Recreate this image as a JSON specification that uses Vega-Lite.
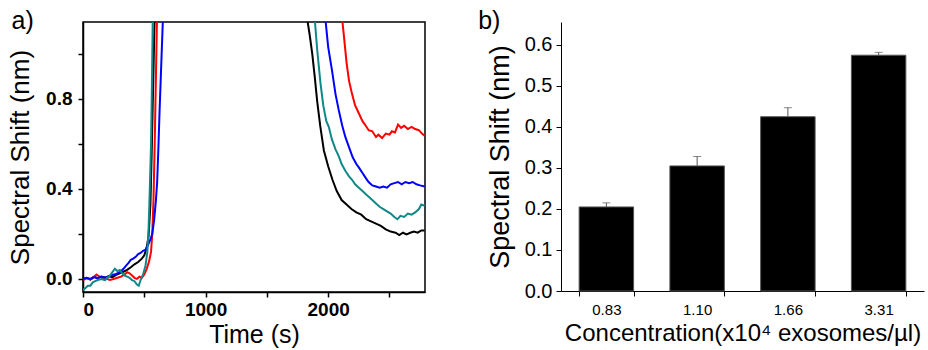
{
  "$schema": "https://vega.github.io/schema/vega-lite/v6.json",
  "background": "white",
  "padding": {"left": 6, "top": 8, "right": 5, "bottom": 0},
  "spacing": 52,
  "config": {
    "font": "Liberation Sans",
    "axis": {"labelColor": "black", "titleColor": "black", "domainColor": "black", "tickColor": "black", "grid": false, "titleFontWeight": "normal", "labelFont": "Liberation Sans", "titleFont": "Liberation Sans"},
    "title": {"color": "black", "fontWeight": "normal", "font": "Liberation Sans"}
  },
  "datasets": {
    "kinetics": [
      {"series": "0.83", "time": 0, "shift": 0.0},
      {"series": "0.83", "time": 30, "shift": 0.005},
      {"series": "0.83", "time": 60, "shift": -0.003},
      {"series": "0.83", "time": 90, "shift": 0.008},
      {"series": "0.83", "time": 120, "shift": 0.004},
      {"series": "0.83", "time": 150, "shift": 0.01},
      {"series": "0.83", "time": 180, "shift": 0.006},
      {"series": "0.83", "time": 210, "shift": 0.012},
      {"series": "0.83", "time": 240, "shift": 0.008},
      {"series": "0.83", "time": 270, "shift": 0.018},
      {"series": "0.83", "time": 300, "shift": 0.025},
      {"series": "0.83", "time": 330, "shift": 0.032},
      {"series": "0.83", "time": 360, "shift": 0.04},
      {"series": "0.83", "time": 390, "shift": 0.052},
      {"series": "0.83", "time": 420, "shift": 0.065},
      {"series": "0.83", "time": 450, "shift": 0.075},
      {"series": "0.83", "time": 480, "shift": 0.09},
      {"series": "0.83", "time": 500, "shift": 0.105},
      {"series": "0.83", "time": 520, "shift": 0.14},
      {"series": "0.83", "time": 535, "shift": 0.19},
      {"series": "0.83", "time": 550, "shift": 0.33},
      {"series": "0.83", "time": 560, "shift": 0.55},
      {"series": "0.83", "time": 570, "shift": 0.8},
      {"series": "0.83", "time": 580, "shift": 1.05},
      {"series": "0.83", "time": 590, "shift": 1.3},
      {"series": "0.83", "time": 1200, "shift": 3.0},
      {"series": "0.83", "time": 1800, "shift": 1.4},
      {"series": "0.83", "time": 1830, "shift": 1.15},
      {"series": "0.83", "time": 1850, "shift": 1.08},
      {"series": "0.83", "time": 1870, "shift": 1.0},
      {"series": "0.83", "time": 1890, "shift": 0.9},
      {"series": "0.83", "time": 1910, "shift": 0.79},
      {"series": "0.83", "time": 1935, "shift": 0.68},
      {"series": "0.83", "time": 1965, "shift": 0.57},
      {"series": "0.83", "time": 2000, "shift": 0.5},
      {"series": "0.83", "time": 2035, "shift": 0.44},
      {"series": "0.83", "time": 2070, "shift": 0.39},
      {"series": "0.83", "time": 2110, "shift": 0.35},
      {"series": "0.83", "time": 2150, "shift": 0.33},
      {"series": "0.83", "time": 2190, "shift": 0.31},
      {"series": "0.83", "time": 2230, "shift": 0.295},
      {"series": "0.83", "time": 2270, "shift": 0.285},
      {"series": "0.83", "time": 2310, "shift": 0.265},
      {"series": "0.83", "time": 2350, "shift": 0.255},
      {"series": "0.83", "time": 2390, "shift": 0.245},
      {"series": "0.83", "time": 2430, "shift": 0.235},
      {"series": "0.83", "time": 2470, "shift": 0.22},
      {"series": "0.83", "time": 2510, "shift": 0.21},
      {"series": "0.83", "time": 2550, "shift": 0.205},
      {"series": "0.83", "time": 2580, "shift": 0.195},
      {"series": "0.83", "time": 2610, "shift": 0.205},
      {"series": "0.83", "time": 2640, "shift": 0.198},
      {"series": "0.83", "time": 2670, "shift": 0.205},
      {"series": "0.83", "time": 2700, "shift": 0.21},
      {"series": "0.83", "time": 2730, "shift": 0.205},
      {"series": "0.83", "time": 2760, "shift": 0.215},
      {"series": "0.83", "time": 2787, "shift": 0.215},

      {"series": "3.31", "time": 0, "shift": -0.005},
      {"series": "3.31", "time": 30, "shift": 0.003},
      {"series": "3.31", "time": 60, "shift": -0.002},
      {"series": "3.31", "time": 90, "shift": 0.01},
      {"series": "3.31", "time": 110, "shift": 0.02},
      {"series": "3.31", "time": 130, "shift": 0.012},
      {"series": "3.31", "time": 160, "shift": 0.005},
      {"series": "3.31", "time": 190, "shift": 0.002},
      {"series": "3.31", "time": 220, "shift": -0.005},
      {"series": "3.31", "time": 250, "shift": 0.0},
      {"series": "3.31", "time": 280, "shift": 0.005},
      {"series": "3.31", "time": 310, "shift": 0.01},
      {"series": "3.31", "time": 340, "shift": 0.02},
      {"series": "3.31", "time": 360, "shift": 0.03},
      {"series": "3.31", "time": 380, "shift": 0.025},
      {"series": "3.31", "time": 400, "shift": 0.015},
      {"series": "3.31", "time": 420, "shift": 0.005},
      {"series": "3.31", "time": 440, "shift": 0.0},
      {"series": "3.31", "time": 460, "shift": 0.01},
      {"series": "3.31", "time": 480, "shift": 0.005},
      {"series": "3.31", "time": 500, "shift": 0.02},
      {"series": "3.31", "time": 520, "shift": 0.045},
      {"series": "3.31", "time": 540, "shift": 0.08},
      {"series": "3.31", "time": 555, "shift": 0.12},
      {"series": "3.31", "time": 565, "shift": 0.2},
      {"series": "3.31", "time": 575, "shift": 0.35},
      {"series": "3.31", "time": 585, "shift": 0.6},
      {"series": "3.31", "time": 595, "shift": 0.9},
      {"series": "3.31", "time": 605, "shift": 1.2},
      {"series": "3.31", "time": 1300, "shift": 3.0},
      {"series": "3.31", "time": 2080, "shift": 1.5},
      {"series": "3.31", "time": 2115, "shift": 1.15},
      {"series": "3.31", "time": 2130, "shift": 1.07},
      {"series": "3.31", "time": 2150, "shift": 0.96},
      {"series": "3.31", "time": 2170, "shift": 0.88},
      {"series": "3.31", "time": 2195, "shift": 0.82},
      {"series": "3.31", "time": 2220, "shift": 0.77},
      {"series": "3.31", "time": 2250, "shift": 0.735},
      {"series": "3.31", "time": 2280, "shift": 0.7},
      {"series": "3.31", "time": 2300, "shift": 0.685},
      {"series": "3.31", "time": 2330, "shift": 0.66},
      {"series": "3.31", "time": 2360, "shift": 0.655},
      {"series": "3.31", "time": 2390, "shift": 0.63},
      {"series": "3.31", "time": 2410, "shift": 0.64},
      {"series": "3.31", "time": 2440, "shift": 0.625},
      {"series": "3.31", "time": 2470, "shift": 0.645},
      {"series": "3.31", "time": 2500, "shift": 0.64},
      {"series": "3.31", "time": 2520, "shift": 0.655},
      {"series": "3.31", "time": 2545, "shift": 0.65},
      {"series": "3.31", "time": 2570, "shift": 0.685},
      {"series": "3.31", "time": 2595, "shift": 0.67},
      {"series": "3.31", "time": 2620, "shift": 0.68},
      {"series": "3.31", "time": 2650, "shift": 0.665},
      {"series": "3.31", "time": 2680, "shift": 0.675},
      {"series": "3.31", "time": 2710, "shift": 0.665},
      {"series": "3.31", "time": 2740, "shift": 0.66},
      {"series": "3.31", "time": 2765, "shift": 0.645},
      {"series": "3.31", "time": 2787, "shift": 0.635},

      {"series": "1.66", "time": 0, "shift": 0.0},
      {"series": "1.66", "time": 30, "shift": 0.005},
      {"series": "1.66", "time": 60, "shift": 0.0},
      {"series": "1.66", "time": 90, "shift": 0.008},
      {"series": "1.66", "time": 120, "shift": 0.003},
      {"series": "1.66", "time": 150, "shift": 0.01},
      {"series": "1.66", "time": 180, "shift": 0.005},
      {"series": "1.66", "time": 210, "shift": 0.012},
      {"series": "1.66", "time": 240, "shift": 0.018},
      {"series": "1.66", "time": 270, "shift": 0.022},
      {"series": "1.66", "time": 300, "shift": 0.03},
      {"series": "1.66", "time": 330, "shift": 0.045},
      {"series": "1.66", "time": 350, "shift": 0.058},
      {"series": "1.66", "time": 370, "shift": 0.07},
      {"series": "1.66", "time": 390, "shift": 0.085},
      {"series": "1.66", "time": 410, "shift": 0.09},
      {"series": "1.66", "time": 430, "shift": 0.098},
      {"series": "1.66", "time": 450, "shift": 0.11},
      {"series": "1.66", "time": 470, "shift": 0.115},
      {"series": "1.66", "time": 490, "shift": 0.125},
      {"series": "1.66", "time": 510, "shift": 0.13},
      {"series": "1.66", "time": 530, "shift": 0.15},
      {"series": "1.66", "time": 550, "shift": 0.175},
      {"series": "1.66", "time": 565, "shift": 0.2},
      {"series": "1.66", "time": 580, "shift": 0.26},
      {"series": "1.66", "time": 595, "shift": 0.35},
      {"series": "1.66", "time": 605, "shift": 0.43},
      {"series": "1.66", "time": 615, "shift": 0.58},
      {"series": "1.66", "time": 625, "shift": 0.75},
      {"series": "1.66", "time": 635, "shift": 0.9},
      {"series": "1.66", "time": 645, "shift": 1.05},
      {"series": "1.66", "time": 655, "shift": 1.2},
      {"series": "1.66", "time": 1300, "shift": 3.0},
      {"series": "1.66", "time": 1950, "shift": 1.4},
      {"series": "1.66", "time": 1978, "shift": 1.15},
      {"series": "1.66", "time": 2000, "shift": 1.03},
      {"series": "1.66", "time": 2030, "shift": 0.93},
      {"series": "1.66", "time": 2060, "shift": 0.82},
      {"series": "1.66", "time": 2086, "shift": 0.75},
      {"series": "1.66", "time": 2115, "shift": 0.68},
      {"series": "1.66", "time": 2140, "shift": 0.63},
      {"series": "1.66", "time": 2170, "shift": 0.585},
      {"series": "1.66", "time": 2200, "shift": 0.54},
      {"series": "1.66", "time": 2230, "shift": 0.51},
      {"series": "1.66", "time": 2250, "shift": 0.495},
      {"series": "1.66", "time": 2280, "shift": 0.47},
      {"series": "1.66", "time": 2310, "shift": 0.445},
      {"series": "1.66", "time": 2330, "shift": 0.43},
      {"series": "1.66", "time": 2360, "shift": 0.415},
      {"series": "1.66", "time": 2390, "shift": 0.41},
      {"series": "1.66", "time": 2420, "shift": 0.405},
      {"series": "1.66", "time": 2450, "shift": 0.41},
      {"series": "1.66", "time": 2480, "shift": 0.405},
      {"series": "1.66", "time": 2510, "shift": 0.42},
      {"series": "1.66", "time": 2540, "shift": 0.425},
      {"series": "1.66", "time": 2570, "shift": 0.43},
      {"series": "1.66", "time": 2600, "shift": 0.42},
      {"series": "1.66", "time": 2630, "shift": 0.43},
      {"series": "1.66", "time": 2660, "shift": 0.425},
      {"series": "1.66", "time": 2690, "shift": 0.43},
      {"series": "1.66", "time": 2720, "shift": 0.42},
      {"series": "1.66", "time": 2750, "shift": 0.415},
      {"series": "1.66", "time": 2787, "shift": 0.41},

      {"series": "1.10", "time": 0, "shift": -0.05},
      {"series": "1.10", "time": 20, "shift": -0.04},
      {"series": "1.10", "time": 40, "shift": -0.03},
      {"series": "1.10", "time": 60, "shift": -0.03},
      {"series": "1.10", "time": 80, "shift": -0.015},
      {"series": "1.10", "time": 100, "shift": -0.01},
      {"series": "1.10", "time": 120, "shift": -0.005},
      {"series": "1.10", "time": 150, "shift": 0.0},
      {"series": "1.10", "time": 180, "shift": -0.005},
      {"series": "1.10", "time": 200, "shift": 0.005},
      {"series": "1.10", "time": 220, "shift": 0.015},
      {"series": "1.10", "time": 240, "shift": 0.03},
      {"series": "1.10", "time": 260, "shift": 0.045},
      {"series": "1.10", "time": 280, "shift": 0.035},
      {"series": "1.10", "time": 300, "shift": 0.04},
      {"series": "1.10", "time": 320, "shift": 0.025},
      {"series": "1.10", "time": 340, "shift": 0.015},
      {"series": "1.10", "time": 360, "shift": 0.01},
      {"series": "1.10", "time": 380, "shift": 0.005},
      {"series": "1.10", "time": 400, "shift": -0.005},
      {"series": "1.10", "time": 420, "shift": -0.01},
      {"series": "1.10", "time": 440, "shift": -0.025},
      {"series": "1.10", "time": 455, "shift": -0.03},
      {"series": "1.10", "time": 470, "shift": -0.005},
      {"series": "1.10", "time": 490, "shift": 0.02},
      {"series": "1.10", "time": 510, "shift": 0.06},
      {"series": "1.10", "time": 525, "shift": 0.12},
      {"series": "1.10", "time": 535, "shift": 0.22},
      {"series": "1.10", "time": 545, "shift": 0.4},
      {"series": "1.10", "time": 555, "shift": 0.6},
      {"series": "1.10", "time": 562, "shift": 0.85},
      {"series": "1.10", "time": 570, "shift": 1.2},
      {"series": "1.10", "time": 1200, "shift": 3.0},
      {"series": "1.10", "time": 1860, "shift": 1.4},
      {"series": "1.10", "time": 1891, "shift": 1.15},
      {"series": "1.10", "time": 1910, "shift": 1.02},
      {"series": "1.10", "time": 1937, "shift": 0.87},
      {"series": "1.10", "time": 1960, "shift": 0.77},
      {"series": "1.10", "time": 1985, "shift": 0.7},
      {"series": "1.10", "time": 2005, "shift": 0.675},
      {"series": "1.10", "time": 2030, "shift": 0.62},
      {"series": "1.10", "time": 2060, "shift": 0.575},
      {"series": "1.10", "time": 2086, "shift": 0.545},
      {"series": "1.10", "time": 2110, "shift": 0.51},
      {"series": "1.10", "time": 2140, "shift": 0.48},
      {"series": "1.10", "time": 2170, "shift": 0.455},
      {"series": "1.10", "time": 2195, "shift": 0.44},
      {"series": "1.10", "time": 2220, "shift": 0.42},
      {"series": "1.10", "time": 2250, "shift": 0.405},
      {"series": "1.10", "time": 2280, "shift": 0.39},
      {"series": "1.10", "time": 2310, "shift": 0.375},
      {"series": "1.10", "time": 2331, "shift": 0.365},
      {"series": "1.10", "time": 2360, "shift": 0.35},
      {"series": "1.10", "time": 2390, "shift": 0.335},
      {"series": "1.10", "time": 2420, "shift": 0.32},
      {"series": "1.10", "time": 2450, "shift": 0.31},
      {"series": "1.10", "time": 2480, "shift": 0.3},
      {"series": "1.10", "time": 2510, "shift": 0.29},
      {"series": "1.10", "time": 2540, "shift": 0.275},
      {"series": "1.10", "time": 2565, "shift": 0.265},
      {"series": "1.10", "time": 2590, "shift": 0.28},
      {"series": "1.10", "time": 2620, "shift": 0.275},
      {"series": "1.10", "time": 2650, "shift": 0.29},
      {"series": "1.10", "time": 2680, "shift": 0.285},
      {"series": "1.10", "time": 2710, "shift": 0.295},
      {"series": "1.10", "time": 2740, "shift": 0.31},
      {"series": "1.10", "time": 2760, "shift": 0.33},
      {"series": "1.10", "time": 2787, "shift": 0.325}
    ],
    "bars": [
      {"conc": "0.83", "shift": 0.205, "upper": 0.215},
      {"conc": "1.10", "shift": 0.305, "upper": 0.328},
      {"conc": "1.66", "shift": 0.425, "upper": 0.447},
      {"conc": "3.31", "shift": 0.575, "upper": 0.582}
    ]
  },
  "hconcat": [
    {
      "width": 342,
      "height": 270,
      "title": {"text": "a)", "anchor": "start", "frame": "bounds", "fontSize": 25, "offset": -12, "dx": 4},
      "view": {"stroke": "black", "strokeWidth": 1.5},
      "data": {"name": "kinetics"},
      "mark": {"type": "line", "clip": true, "strokeWidth": 2},
      "encoding": {
        "x": {
          "field": "time", "type": "quantitative",
          "scale": {"domain": [0, 2790], "nice": false, "zero": false},
          "axis": {"title": "Time (s)", "values": [0, 500, 1000, 1500, 2000, 2500], "format": "d",
                   "labelExpr": "datum.value % 1000 == 0 ? datum.label : ''",
                   "labelFontSize": 19, "labelFontWeight": "bold", "titleFontSize": 25,
                   "tickSize": 5, "labelPadding": 3, "titlePadding": 3, "domainWidth": 1.5, "tickWidth": 1.5}
        },
        "y": {
          "field": "shift", "type": "quantitative",
          "scale": {"domain": [-0.058, 1.14], "nice": false, "zero": false},
          "axis": {"title": "Spectral Shift (nm)", "values": [0, 0.2, 0.4, 0.6, 0.8, 1.0], "format": ".1f",
                   "labelExpr": "indexof(['0.0','0.4','0.8'], datum.label) >= 0 ? datum.label : ''",
                   "labelFontSize": 19, "labelFontWeight": "bold", "titleFontSize": 26,
                   "tickSize": 5, "labelPadding": 6, "titlePadding": 12, "domainWidth": 1.5, "tickWidth": 1.5}
        },
        "color": {
          "field": "series", "type": "nominal",
          "scale": {"domain": ["0.83", "3.31", "1.66", "1.10"], "range": ["#000000", "#ff0000", "#0000ff", "#108888"]},
          "legend": null
        },
        "order": {"field": "time", "type": "quantitative"}
      }
    },
    {
      "width": 363,
      "height": 269,
      "title": {"text": "b)", "anchor": "start", "frame": "bounds", "fontSize": 25, "offset": -12, "dx": -8},
      "view": {"stroke": null},
      "data": {"name": "bars"},
      "encoding": {
        "x": {
          "field": "conc", "type": "nominal", "sort": null,
          "scale": {"paddingInner": 0.4, "paddingOuter": 0.2},
          "axis": {"title": "Concentration(x10⁴ exosomes/µl)", "labelAngle": 0, "labelFontSize": 15,
                   "titleFontSize": 24, "tickBand": "extent", "tickSize": 5, "labelPadding": 6, "titlePadding": 4}
        }
      },
      "layer": [
        {
          "mark": {"type": "bar", "color": "black", "stroke": "#555555", "strokeWidth": 1},
          "encoding": {
            "y": {
              "field": "shift", "type": "quantitative",
              "scale": {"domain": [0, 0.656], "nice": false},
              "axis": {"title": "Spectral Shift (nm)", "values": [0, 0.05, 0.1, 0.15, 0.2, 0.25, 0.3, 0.35, 0.4, 0.45, 0.5, 0.55, 0.6, 0.65],
                       "format": ".1f", "labelExpr": "round(datum.value * 100) % 10 == 0 ? datum.label : ''",
                       "labelFontSize": 20, "titleFontSize": 27, "tickSize": 5, "labelPadding": 4, "titlePadding": 10}
            }
          }
        },
        {
          "mark": {"type": "rule", "color": "#555555", "strokeWidth": 1},
          "encoding": {"y": {"field": "shift", "type": "quantitative"}, "y2": {"field": "upper"}}
        },
        {
          "mark": {"type": "tick", "color": "#555555", "size": 8, "thickness": 1},
          "encoding": {"y": {"field": "upper", "type": "quantitative"}}
        }
      ]
    }
  ]
}
